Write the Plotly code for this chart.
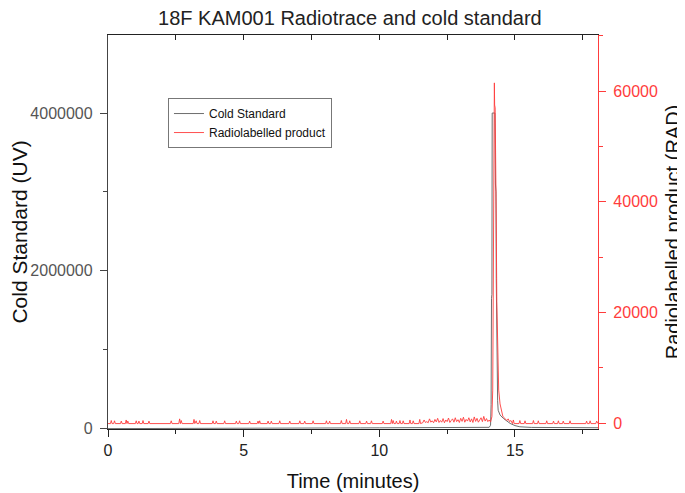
import plotly.graph_objects as go

# Cold standard (UV) trace, minutes / signal
cold_time = [0.0, 9.0, 9.3, 10.0, 11.0, 12.0, 13.0, 13.8, 14.05, 14.10, 14.12,
             14.135, 14.15, 14.16, 14.20, 14.26, 14.28, 14.30, 14.31, 14.33,
             14.36, 14.38, 14.45, 14.57, 14.70, 14.82, 15.00, 15.18, 15.60,
             16.50, 18.06]
cold_signal = [-3000, -3000, 6000, 7000, 8000, 9000, 10000, 12000, 13000,
               40000, 300000, 1650000, 1700000, 4000000, 4000000, 4000000,
               3100000, 3000000, 1900000, 800000, 350000, 230000, 170000,
               127000, 90000, 63000, 35000, 20000, 12000, 9000, 8000]

# Radiolabelled product (RAD) trace, minutes / counts
rad_time = [
    0.00, 0.09, 0.12, 0.15, 0.21, 0.24, 0.27, 0.46, 0.49, 0.52, 0.64, 0.67,
    0.70, 0.73, 0.76, 1.01, 1.04, 1.07, 1.11, 1.14, 1.17, 1.26, 1.29, 1.32,
    1.48, 1.51, 1.54, 2.30, 2.33, 2.36, 2.61, 2.64, 2.67, 2.70, 2.73, 3.14,
    3.17, 3.20, 3.25, 3.28, 3.35, 3.38, 3.41, 3.84, 3.87, 3.90, 3.96, 3.99,
    4.02, 4.27, 4.30, 4.33, 4.70, 4.73, 4.76, 4.82, 4.85, 4.88, 5.19, 5.22,
    5.25, 5.50, 5.53, 5.56, 5.59, 5.62, 5.87, 5.90, 5.93, 5.99, 6.02, 6.05,
    6.30, 6.33, 6.36, 6.67, 6.70, 6.73, 7.04, 7.07, 7.10, 7.22, 7.25, 7.28,
    7.53, 7.56, 7.59, 8.02, 8.05, 8.08, 8.14, 8.17, 8.20, 8.57, 8.60, 8.63,
    8.76, 8.79, 8.82, 8.88, 8.91, 8.94, 9.25, 9.28, 9.31, 9.50, 9.53, 9.56,
    9.68, 9.71, 9.74, 10.11, 10.14, 10.17, 10.42, 10.45, 10.48, 10.51, 10.54,
    10.60, 10.63, 10.66, 10.73, 10.76, 10.79, 10.85, 10.88, 10.91, 11.10,
    11.13, 11.16, 11.22, 11.25, 11.28, 11.46, 11.49, 11.52,
    11.60, 11.65, 11.70, 11.75, 11.80, 11.85, 11.90, 11.95, 12.00, 12.05,
    12.10, 12.15, 12.20, 12.25, 12.30, 12.35, 12.40, 12.45, 12.50, 12.55,
    12.60, 12.65, 12.70, 12.75, 12.80, 12.85, 12.90, 12.95, 13.00, 13.05,
    13.10, 13.15, 13.20, 13.25, 13.30, 13.35, 13.40, 13.45, 13.50, 13.55,
    13.60, 13.65, 13.70, 13.75, 13.80, 13.85, 13.90, 13.95, 14.00, 14.05,
    14.10,
    14.15, 14.18, 14.20, 14.22, 14.24, 14.25, 14.27, 14.29, 14.31, 14.33,
    14.36, 14.40, 14.45, 14.50, 14.55, 14.60, 14.65, 14.70, 14.75, 14.80,
    14.85, 14.90,
    14.91, 14.94, 14.97, 15.15, 15.18, 15.21, 15.34, 15.37, 15.40, 15.65,
    15.68, 15.71, 15.83, 15.86, 15.89, 16.14, 16.17, 16.20, 16.39, 16.42,
    16.45, 16.57, 16.60, 16.63, 16.75, 16.78, 16.81, 17.00, 17.03, 17.06,
    17.61, 17.64, 17.67, 17.74, 17.77, 17.80, 17.98, 18.01, 18.06,
]
rad_signal = [
    -50, -50, 500, -50, -50, 450, -50, -50, 400, -50, -50, 600,
    -50, 400, -50, -50, 450, -50, -50, 400, -50, -50, 500, -50,
    -50, 400, -50, -50, 450, -50, -50, 800, -50, 500, -50, -50,
    700, -50, 450, -50, -50, 500, -50, -50, 450, -50, -50, 400,
    -50, -50, 450, -50, -50, 400, -50, -50, 450, -50, -50, 400,
    -50, -50, 400, -50, 450, -50, -50, 400, -50, -50, 400, -50,
    -50, 450, -50, -50, 400, -50, -50, 450, -50, -50, 400, -50,
    -50, 450, -50, -50, 450, -50, -50, 400, -50, -50, 500, -50,
    -50, 700, -50, -50, 450, -50, -50, 450, -50, -50, 400, -50,
    -50, 450, -50, -50, 400, -50, -50, 700, -50, 500, -50,
    -50, 400, -50, -50, 500, -50, -50, 450, -50, -50,
    600, -50, -50, 450, -50, -50, 700, -50,
    100, 600, 150, 300, 100, 800, 200, 450, 100, 700,
    250, 900, 150, 500, 200, 850, 100, 600, 300, 950,
    150, 500, 800, 200, 1000, 300, 650, 150, 900, 350,
    1100, 200, 700, 400, 1000, 250, 800, 150, 1150, 350,
    900, 200, 750, 1000, 300, 1250, 400, 850, 300, 600,
    250,
    1200, 6000, 22000, 48000, 61500, 57500, 57000, 50000, 36000, 22000,
    11000, 6000, 3500, 2200, 1300, 1000, 700, 500, 800, 300,
    500, 150,
    -50, 600, -50, -50, 500, -50, -50, 450, -50, -50,
    500, -50, -50, 450, -50, -50, 450, -50, -50, 400,
    -50, -50, 450, -50, -50, 400, -50, -50, 450, -50,
    -50, 400, -50, -50, 450, -50, -50, 400, -50,
]

FONT = "Liberation Sans, Arial, sans-serif"
RED = "rgb(255,60,60)"

fig = go.Figure()
fig.add_trace(go.Scatter(x=cold_time, y=cold_signal, mode="lines",
                         name="Cold Standard",
                         line=dict(color="#6e6e6e", width=1)))
fig.add_trace(go.Scatter(x=rad_time, y=rad_signal, mode="lines",
                         name="Radiolabelled product", yaxis="y2",
                         line=dict(color=RED, width=0.9)))
# empty trace so the mirrored top axis gets drawn
fig.add_trace(go.Scatter(x=[], y=[], xaxis="x2", showlegend=False,
                         hoverinfo="skip"))

# page body adds an 8px margin, so the figure is 8px smaller each way
fig.update_layout(
    width=677, height=485,
    margin=dict(l=100, r=87, t=27, b=64, pad=0),
    paper_bgcolor="white", plot_bgcolor="white",
    font=dict(family=FONT, size=16, color="#222"),
    title=dict(text="18F KAM001 Radiotrace and cold standard",
               x=0.505, xanchor="center", y=0.994, yanchor="top",
               pad=dict(t=0, b=0),
               font=dict(size=20, color="#222")),
    showlegend=True,
    legend=dict(x=0.1224, y=0.84, xanchor="left", yanchor="top",
                bgcolor="white", bordercolor="#777", borderwidth=1,
                font=dict(size=12, color="#111"),
                tracegroupgap=0, itemwidth=30),
    xaxis=dict(range=[0, 18.06], showgrid=False, zeroline=False,
               automargin=False,
               showline=True, linecolor="#222", linewidth=1.3,
               ticks="outside", ticklen=7, tickwidth=1.3, tickcolor="#222",
               dtick=5, tick0=0,
               minor=dict(ticks="outside", ticklen=4, dtick=2.5,
                          tickcolor="#222", tickwidth=1.3),
               tickfont=dict(size=16, color="#222"),
               title=dict(text="Time (minutes)", standoff=15,
                          font=dict(size=20, color="#111"))),
    xaxis2=dict(overlaying="x", matches="x", side="top", anchor="y",
                automargin=False,
                showgrid=False, zeroline=False, showline=True,
                linecolor="#222", linewidth=1.3, ticks="inside",
                ticklen=5, tickwidth=1.3, tickcolor="#222", dtick=2.5,
                tick0=0, showticklabels=False),
    yaxis=dict(range=[-8000, 4990000], showgrid=False, zeroline=False,
               automargin=False,
               showline=True, linecolor="#444", linewidth=1.3,
               ticks="outside", ticklen=7, tickwidth=1.3, tickcolor="#444",
               dtick=2000000, tick0=0, tickformat="d", ticklabelstandoff=4,
               minor=dict(ticks="outside", ticklen=4, dtick=1000000,
                          tickcolor="#444", tickwidth=1.3),
               tickfont=dict(size=16, color="#555"),
               title=dict(text="Cold Standard (UV)", standoff=8,
                          font=dict(size=21, color="#111"))),
    yaxis2=dict(range=[-1030, 70150], overlaying="y", side="right",
                anchor="x", showgrid=False, zeroline=False,
                automargin=False,
                showline=True, linecolor=RED, linewidth=1.3,
                ticks="outside", ticklen=7, tickwidth=1.3, tickcolor=RED,
                dtick=20000, tick0=0, tickformat="d", ticklabelstandoff=4,
                minor=dict(ticks="outside", ticklen=4, dtick=10000,
                           tickcolor=RED, tickwidth=1.3),
                tickfont=dict(size=16, color=RED),
                title=dict(text="Radiolabelled product (RAD)", standoff=9,
                           font=dict(size=20, color="#111"))),
)

fig.write_html("out.html")
